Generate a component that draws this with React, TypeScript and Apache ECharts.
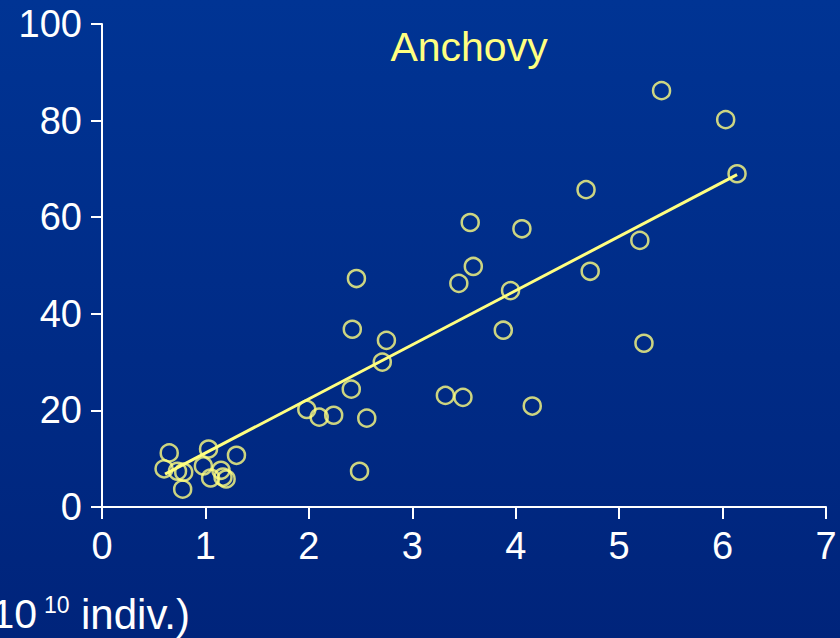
import React, { useEffect, useRef } from "react";
import * as echarts from "echarts";

const abundance = [
  5.41, 6.03, 6.14, 4.68, 4.72, 5.2, 5.24, 3.56, 4.06, 3.59, 3.95, 3.45, 3.88, 4.16, 3.32, 3.49,
  2.46, 2.42, 2.75, 2.71, 2.41, 2.56, 2.24, 2.1, 1.98, 2.49,
  0.65, 1.03, 1.3, 0.6, 0.73, 0.79, 0.98, 1.15, 1.05, 1.17, 1.2, 0.78,
];
const recruits = [
  86.2, 80.2, 69.0, 65.7, 48.8, 55.2, 33.9, 58.9, 57.6, 49.8, 44.8, 46.3, 36.6, 20.9, 23.1, 22.7,
  47.3, 36.8, 34.5, 30.0, 24.4, 18.4, 19.0, 18.6, 20.2, 7.4,
  11.2, 12.0, 10.7, 7.9, 7.4, 7.2, 8.5, 7.6, 6.0, 6.2, 5.8, 3.7,
];
const fitX = [0.61, 6.14];
const fitY = [6.8, 68.8];
const xTicks = [0, 1, 2, 3, 4, 5, 6, 7];
const yTicks = [0, 20, 40, 60, 80, 100];
const title = "Anchovy";
const xNameMain = "Abundance (10";
const xNameSup = "10";
const xNameTail = "indiv.)";

export default function App() {
  const ref = useRef<HTMLDivElement>(null);
  useEffect(() => {
    if (!ref.current) return;
    const chart = echarts.init(ref.current, null, { renderer: "svg" });
    const yellow = "#ffff80";
    const font = "Liberation Sans, Arial, sans-serif";
    chart.setOption({
      animation: false,
      backgroundColor: new echarts.graphic.LinearGradient(0, 0, 0, 1, [
        { offset: 0, color: "#003494" },
        { offset: 1, color: "#00247b" },
      ]),
      title: {
        text: title,
        left: 464,
        top: 21,
        textAlign: "center",
        textStyle: { color: yellow, fontSize: 41, fontWeight: "normal", fontFamily: font },
      },
      grid: { left: 102, right: 14, top: 24, bottom: 131 },
      xAxis: {
        type: "value",
        min: xTicks[0],
        max: xTicks[xTicks.length - 1],
        interval: 1,
        splitLine: { show: false },
        axisLine: { show: true, onZero: false, lineStyle: { color: "#ffffff", width: 2 } },
        axisTick: { show: true, length: 12, lineStyle: { color: "#ffffff", width: 2 } },
        axisLabel: { color: "#ffffff", fontSize: 38, fontFamily: font, margin: 20 },
      },
      yAxis: {
        type: "value",
        min: yTicks[0],
        max: yTicks[yTicks.length - 1],
        interval: 20,
        splitLine: { show: false },
        axisLine: { show: true, onZero: false, lineStyle: { color: "#ffffff", width: 2 } },
        axisTick: { show: true, length: 11, lineStyle: { color: "#ffffff", width: 2 } },
        axisLabel: { color: "#ffffff", fontSize: 38, fontFamily: font, margin: 20 },
      },
      graphic: [
        {
          type: "text",
          x: 37,
          y: 614,
          style: {
            text: xNameMain,
            fill: "#ffffff",
            font: `41px ${font}`,
            align: "right",
            verticalAlign: "middle",
          },
        },
        {
          type: "text",
          x: 44,
          y: 605,
          style: {
            text: xNameSup,
            fill: "#ffffff",
            font: `23px ${font}`,
            align: "left",
            verticalAlign: "middle",
          },
        },
        {
          type: "text",
          x: 81,
          y: 614,
          style: {
            text: xNameTail,
            fill: "#ffffff",
            font: `42px ${font}`,
            align: "left",
            verticalAlign: "middle",
          },
        },
      ],
      series: [
        {
          type: "line",
          data: fitX.map((x, i) => [x, fitY[i]]),
          symbol: "none",
          lineStyle: { color: yellow, width: 3 },
          z: 2,
        },
        {
          type: "scatter",
          data: abundance.map((x, i) => [x, recruits[i]]),
          symbol: "circle",
          symbolSize: 17,
          itemStyle: { color: "rgba(0,0,0,0)", borderColor: yellow, borderWidth: 2.5 },
          z: 3,
        },
      ],
    });
    return () => chart.dispose();
  }, []);
  return <div ref={ref} style={{ position: "fixed", left: 0, top: 0, width: 840, height: 638 }} />;
}
